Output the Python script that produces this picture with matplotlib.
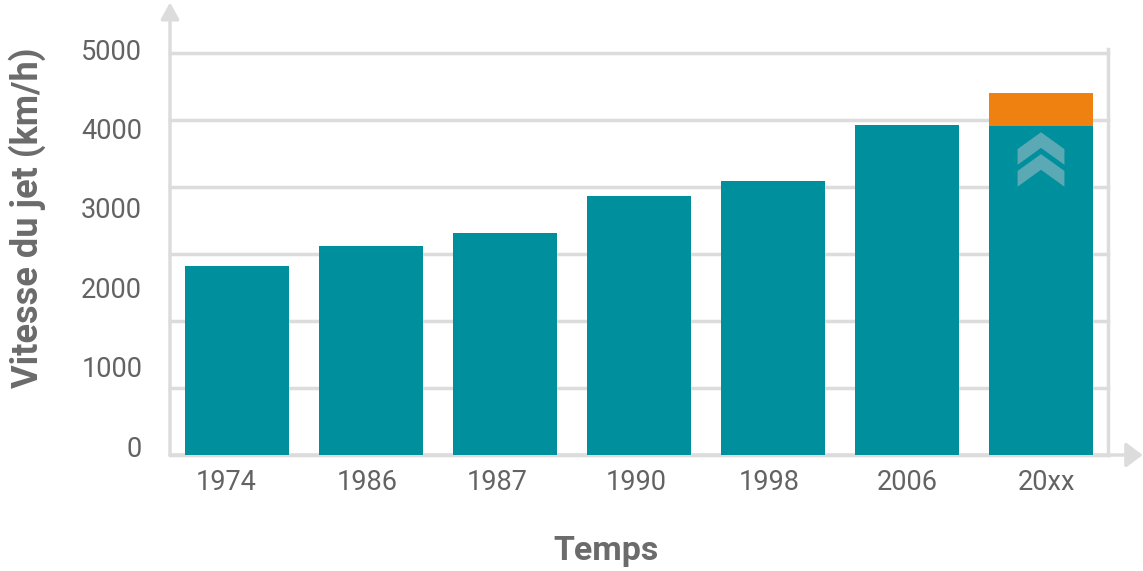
import matplotlib
matplotlib.use("Agg")
import matplotlib.pyplot as plt
from matplotlib.patches import Polygon
import numpy as np

plt.rcParams['font.family'] = ['Roboto', 'DejaVu Sans']

# ---- data ----
categories = ["1974", "1986", "1987", "1990", "1998", "2006", "20xx"]
speeds = [2346, 2593, 2753, 3222, 3407, 4099, 4091]
extra = [0, 0, 0, 0, 0, 0, 403]          # orange increment for 20xx
ytick_values = [0, 1000, 2000, 3000, 4000, 5000]
ylabel = "Vitesse du jet (km/h)"
xlabel = "Temps"

# small label offsets seen in the reference (layout only)
xlabel_shift = [-0.078, -0.03, -0.06, -0.02, -0.03, 0.0, 0.04]

TEAL = "#008f9c"
ORANGE = "#ef8110"
GRID = "#dcdcdc"
TXT = "#636363"
LBL = "#6b6b6b"

W, H = 1143, 571
fig = plt.figure(figsize=(W / 100, H / 100), dpi=100)
ax = fig.add_axes([170 / W, 1 - 455 / H, (1108 - 170) / W, (455 - 49) / H])

ymax = 5000
x = np.arange(len(categories))
ax.bar(x, speeds, width=0.78, color=TEAL, zorder=3)
ax.bar(x, extra, bottom=speeds, width=0.78, color=ORANGE, zorder=3)

ax.set_xlim(-0.5, len(categories) - 0.5)
ax.set_ylim(0, ymax)

# gridlines (six equal intervals)
for g in np.linspace(0, ymax, 7):
    ax.axhline(g, color=GRID, lw=2.5, zorder=1, clip_on=False)
ax.plot([1, 1], [0, 1], transform=ax.transAxes, color=GRID, lw=2.5, zorder=1, clip_on=False)

for s in ax.spines.values():
    s.set_visible(False)

# tick labels (positioned slightly offset as in the reference)
ax.set_yticks([v * 0.987 + 110 for v in ytick_values])
ax.set_yticklabels([str(v) for v in ytick_values])
ax.set_xticks(x + np.array(xlabel_shift))
ax.set_xticklabels(categories)
ax.tick_params(axis='y', length=0, pad=20, labelsize=19.5, labelcolor=TXT)
ax.tick_params(axis='x', length=0, pad=10, labelsize=19.5, labelcolor=TXT)

# axis arrows
ax.annotate("", xy=(0, 1.115), xytext=(0, 0), xycoords='axes fraction',
            arrowprops=dict(arrowstyle="-|>,head_length=1.0,head_width=0.55",
                            color=GRID, lw=2.5, shrinkA=0, shrinkB=0), zorder=2)
ax.annotate("", xy=(1.037, 0), xytext=(0, 0), xycoords='axes fraction',
            arrowprops=dict(arrowstyle="-|>,head_length=1.0,head_width=0.75",
                            color=GRID, lw=2.5, shrinkA=0, shrinkB=0), zorder=2)

# chevrons on the last bar
i = len(categories) - 1
hw = 0.175
thick = 195
drop = 210
for k in range(2):
    top = speeds[i] - 80 - k * 272
    pts = [(i - hw, top - drop), (i, top), (i + hw, top - drop),
           (i + hw, top - drop - thick), (i, top - thick), (i - hw, top - drop - thick)]
    ax.add_patch(Polygon(pts, closed=True, color="#5aa9b4", lw=0, zorder=4))

fig.text(27 / W, 1 - 218 / H, ylabel, rotation=90, ha='center', va='center',
         fontsize=26, fontweight='bold', color=LBL)
fig.text(606 / W, 1 - 551 / H, xlabel, ha='center', va='center',
         fontsize=24.5, fontweight='bold', color=LBL)

fig.savefig("out.png", dpi=100)
